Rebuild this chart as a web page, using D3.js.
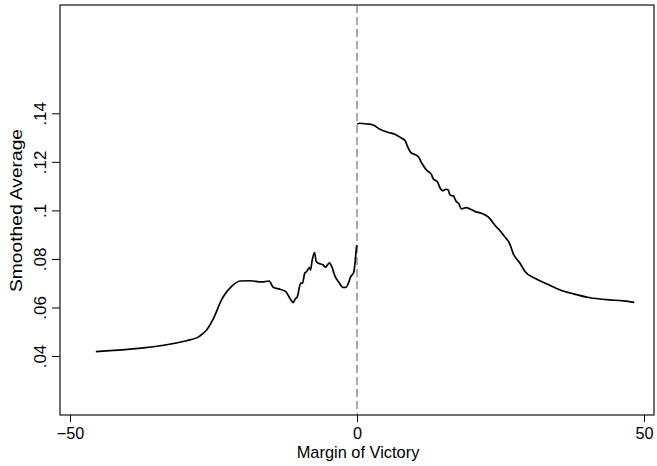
<!DOCTYPE html>
<html>
<head>
<meta charset="utf-8">
<script src="https://cdn.jsdelivr.net/npm/d3@7"></script>
<style>
  body { margin: 0; background: #fff; }
  text { font-family: "Liberation Sans", Arial, Helvetica, sans-serif; fill: #000; }
</style>
</head>
<body>
<div id="chart"></div>
<script>
var width = 657,
    height = 466,
    margin = { top: 5, right: 3, bottom: 51, left: 60 };

// left of the cutoff (margin < 0)
var leftX = [-45.5, -29.7, -27.4, -26.2, -25.0, -23.6, -23.3, -21.8, -20.4, -18.6,
             -16.6, -15.3, -14.6, -13.4, -12.4, -11.7, -11.1, -10.8, -10.4, -9.8,
             -9.5, -9.1, -8.8, -8.3, -8.1, -7.8, -7.4, -7.1, -6.7, -5.9,
             -5.5, -4.8, -4.4, -3.8, -3.1, -2.5, -1.9, -1.5, -1.1, -0.6,
             -0.35, -0.17, -0.03];
var leftY = [.0418, .0463, .0482, .0507, .0555, .0631, .0644, .0688, .0709, .0710,
             .0705, .0709, .0683, .0675, .0665, .0638, .0620, .0634, .0644, .0700,
             .0700, .0741, .0747, .0764, .0754, .0796, .0826, .0789, .0782, .0775,
             .0766, .0784, .0768, .0727, .0702, .0683, .0683, .0700, .0727, .0743,
             .0782, .0830, .0857];

// right of the cutoff (margin > 0)
var rightX = [0.05, 0.5, 1.7, 2.8, 4.0, 5.2, 6.6, 7.8, 8.4, 8.7,
              9.4, 9.9, 10.7, 11.3, 12.1, 13.0, 13.3, 14.0, 14.5, 14.9,
              15.5, 15.9, 16.2, 16.8, 17.3, 17.7, 18.2, 19.0, 19.7, 20.6,
              21.7, 22.9, 24.0, 25.5, 26.7, 27.2, 28.4, 29.3, 31.0, 33.1,
              35.4, 37.7, 40.6, 43.5, 46.4, 48.3];
var rightY = [.1356, .1359, .1356, .1352, .1334, .1323, .1314, .1297, .1287, .1269,
              .1238, .1232, .1221, .1194, .1166, .1146, .1129, .1118, .1091, .1081,
              .1087, .1084, .1063, .1059, .1036, .1029, .1006, .1011, .1006, .0995,
              .0988, .0972, .0940, .0899, .0857, .0823, .0782, .0747, .0720, .0697,
              .0672, .0656, .0640, .0632, .0627, .0621];

var xTicks = [-50, 0, 50];
var yTicks = [.04, .06, .08, .1, .12, .14];
var yTickLabels = [".04", ".06", ".08", ".1", ".12", ".14"];

var svg = d3.select("#chart").append("svg")
  .attr("width", width)
  .attr("height", height);

var x = d3.scaleLinear()
  .domain([-51.74, 51.74])
  .range([margin.left, width - margin.right]);

var y = d3.scaleLinear()
  .domain([.01569, .18462])
  .range([height - margin.bottom, margin.top]);

// x axis
var xAxis = svg.append("g")
  .attr("transform", "translate(0," + (height - margin.bottom) + ")")
  .call(d3.axisBottom(x).tickValues(xTicks).tickSize(7).tickPadding(5));
xAxis.select(".domain").remove();
xAxis.selectAll("line").attr("stroke", "#000");
xAxis.selectAll("text")
  .style("font-size", "16.3px")
  .style("font-family", "'Liberation Sans', Arial, sans-serif")
  .attr("fill", "#000")
  .attr("dy", 0)
  .attr("y", 23.5);

// y axis, labels rotated like stata
var yAxis = svg.append("g")
  .attr("transform", "translate(" + margin.left + ",0)")
  .call(d3.axisLeft(y).tickValues(yTicks).tickSize(8)
    .tickFormat(function(d, i) { return yTickLabels[i]; }));
yAxis.select(".domain").remove();
yAxis.selectAll("line").attr("stroke", "#000");
yAxis.selectAll("text")
  .style("font-size", "17px")
  .style("font-family", "'Liberation Sans', Arial, sans-serif")
  .attr("fill", "#000")
  .attr("text-anchor", "middle")
  .attr("transform", "rotate(-90)")
  .attr("x", 0)
  .attr("y", -14)
  .attr("dy", 0);

// frame
svg.append("rect")
  .attr("x", margin.left)
  .attr("y", margin.top)
  .attr("width", width - margin.right - margin.left)
  .attr("height", height - margin.bottom - margin.top)
  .style("fill", "none")
  .style("stroke", "#111")
  .style("stroke-width", 1.2);

// cutoff line
svg.append("line")
  .attr("x1", x(0)).attr("x2", x(0))
  .attr("y1", margin.top).attr("y2", height - margin.bottom)
  .style("stroke", "#555")
  .style("stroke-width", 1)
  .style("stroke-dasharray", "8,4");

var line = d3.line()
  .curve(d3.curveMonotoneX)
  .x(function(d) { return x(d[0]); })
  .y(function(d) { return y(d[1]); });

[[leftX, leftY], [rightX, rightY]].forEach(function(s) {
  svg.append("path")
    .datum(d3.zip(s[0], s[1]))
    .attr("d", line)
    .style("fill", "none")
    .style("stroke", "#000")
    .style("stroke-width", 1.7)
    .style("stroke-linejoin", "round");
});

// axis titles
svg.append("text")
  .attr("x", (margin.left + width - margin.right) / 2 + 1)
  .attr("y", 457.7)
  .attr("text-anchor", "middle")
  .style("font-size", "16.4px")
  .text("Margin of Victory");

svg.append("text")
  .attr("transform", "translate(22.3,210.5) rotate(-90)")
  .attr("text-anchor", "middle")
  .attr("textLength", 163)
  .attr("lengthAdjust", "spacingAndGlyphs")
  .style("font-size", "16.4px")
  .text("Smoothed Average");
</script>
</body>
</html>
